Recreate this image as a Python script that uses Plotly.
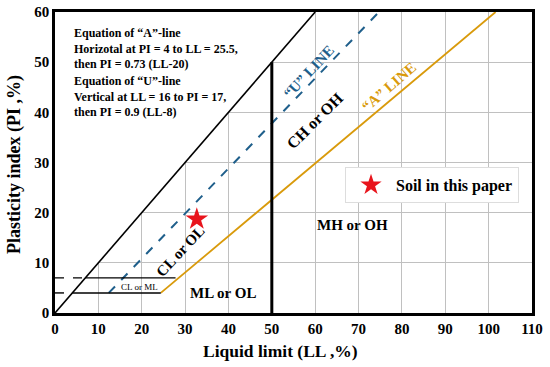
import plotly.graph_objects as go

# ---- data ----
upper_ll = [0, 60]
upper_pi = [0, 60]

u_line_ll = [12.4, 74.7]
u_line_pi = [4, 60]

a_line_ll = [24.4, 101.6]
a_line_pi = [4, 60]

ll50_ll = [50, 50]
ll50_pi = [0, 50]

h7_ll = [7, 27.8]
h7_pi = [7, 7]
h4_ll = [4, 24.4]
h4_pi = [4, 4]

d7_ll = [0, 7]
d7_pi = [7, 7]
d4_ll = [0, 4]
d4_pi = [4, 4]

soil_ll = [32.7]
soil_pi = [18.7]

x_ticks = [0, 10, 20, 30, 40, 50, 60, 70, 80, 90, 100, 110]
y_ticks = [0, 10, 20, 30, 40, 50, 60]
y_small_ticks = [4, 7]

FONT = "Liberation Serif"

fig = go.Figure()

# white area above the PI = LL line (hides grid there)
fig.add_trace(go.Scatter(x=[0, 60, 0, 0], y=[0, 60, 60, 0], mode="lines",
                         fill="toself", fillcolor="white", line=dict(width=0),
                         hoverinfo="skip", showlegend=False))

def line(x, y, color, width, dash="solid"):
    fig.add_trace(go.Scatter(x=x, y=y, mode="lines",
                             line=dict(color=color, width=width, dash=dash),
                             showlegend=False, hoverinfo="skip"))

line(upper_ll, upper_pi, "black", 1.6)
line(u_line_ll, u_line_pi, "#1f5f8b", 2, "dash")
line(a_line_ll, a_line_pi, "#d99a0b", 1.8)
line(ll50_ll, ll50_pi, "black", 3)
line(h7_ll, h7_pi, "black", 1.4)
line(h4_ll, h4_pi, "black", 1.4)
line(d7_ll, d7_pi, "black", 1.4, "dash")
line(d4_ll, d4_pi, "black", 1.4, "dash")

fig.add_trace(go.Scatter(x=soil_ll, y=soil_pi, mode="markers",
                         marker=dict(symbol="star", size=17, color="#e8141c"),
                         name="<b>Soil in this paper</b>", showlegend=True))

fig.update_xaxes(range=[0, 110], tickmode="array", tickvals=x_ticks,
                 ticktext=[str(v) for v in x_ticks],
                 showgrid=True, gridcolor="#c0c0c0", gridwidth=1,
                 showline=True, linecolor="black", linewidth=2.5, mirror=True,
                 zeroline=False, ticks="", automargin=False,
                 tickfont=dict(family=FONT, size=15, color="black", weight="bold"))
fig.update_yaxes(range=[0, 60], tickmode="array", tickvals=y_ticks,
                 ticktext=[str(v) for v in y_ticks],
                 showgrid=True, gridcolor="#c0c0c0", gridwidth=1,
                 showline=True, linecolor="black", linewidth=2.5, mirror=True,
                 zeroline=False, ticks="", automargin=False,
                 tickfont=dict(family=FONT, size=15, color="black", weight="bold"))

ann = []
def txt(x, y, s, size=13, color="black", angle=0, xanchor="center", bold=True,
        xref="x", yref="y"):
    ann.append(dict(x=x, y=y, xref=xref, yref=yref,
                    text=("<b>%s</b>" % s) if bold else s,
                    showarrow=False, textangle=angle, xanchor=xanchor,
                    yanchor="middle", align="left",
                    font=dict(family=FONT, size=size, color=color)))

for v in y_small_ticks:
    txt(-1.4, v, str(v), size=9, bold=False)

txt(4, 52.7, "Equation of “A”-line<br>Horizotal at PI = 4 to LL = 25.5,<br>then PI = 0.73 (LL-20)",
    size=12, xanchor="left")
txt(4, 43.2, "Equation of “U”-line<br>Vertical at LL = 16 to PI = 17,<br>then PI = 0.9 (LL-8)",
    size=12, xanchor="left")
txt(58.5, 48.0, "“U” LINE", size=15, color="#1f5f8b", angle=-47)
txt(60.0, 38.3, "CH or OH", size=16, angle=-45)
txt(77.0, 45.0, "“A” LINE", size=15, color="#d99a0b", angle=-41)
txt(29.0, 12.3, "CL or OL", size=15, angle=-47)
txt(19.6, 5.2, "CL or ML", size=9, bold=False)
txt(38.8, 4.0, "ML or OL", size=15)
txt(68.5, 17.5, "MH or OH", size=15)

# axis titles
txt(0.472, -0.126, "Liquid limit (LL ,%)", size=17.5, xref="paper", yref="paper")
txt(-0.086, 0.495, "Plasticity index (PI ,%)", size=18, angle=-90, xref="paper", yref="paper")

fig.update_layout(
    width=550, height=367,
    margin=dict(l=55, r=18, t=12, b=54),
    plot_bgcolor="white", paper_bgcolor="white",
    annotations=ann,
    showlegend=True,
    legend=dict(x=0.608, y=0.485, xanchor="left", yanchor="top",
                bgcolor="white", bordercolor="#dddddd", borderwidth=1,
                font=dict(family=FONT, size=16, color="black"),
                itemwidth=40),
)

fig.write_html("out.html", config={"displayModeBar": False},
               post_script="document.body.style.margin='0';")
